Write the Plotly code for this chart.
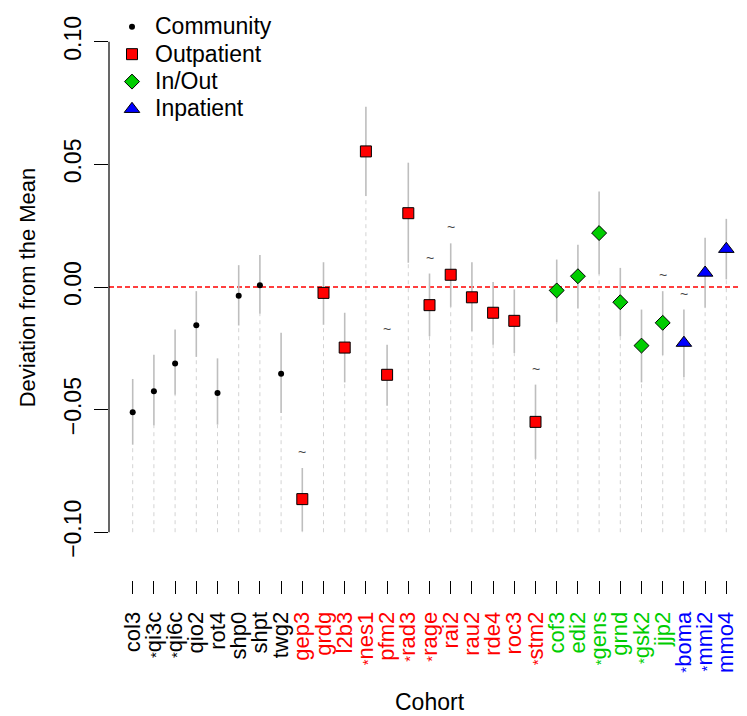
import plotly.graph_objects as go

# ---------------- data ----------------
cohorts = ["col3", "qi3c", "qi6c", "qio2", "rot4", "shp0", "shpt", "twg2",
           "gep3", "grdg", "l2b3", "nes1", "pfm2", "rad3", "rage", "rai2",
           "rau2", "rde4", "roc3", "stm2",
           "cof3", "edi2", "gens", "grnd", "gsk2", "jjp2",
           "boma", "mmi2", "mmo4"]
groups = (["Community"] * 8 + ["Outpatient"] * 12 +
          ["In/Out"] * 6 + ["Inpatient"] * 3)
estimate = [-0.0511, -0.0425, -0.0312, -0.0156, -0.0432, -0.0036, 0.0007, -0.0354,
            -0.0865, -0.0024, -0.0247, 0.0553, -0.0358, 0.0301, -0.0074, 0.0050,
            -0.0042, -0.0105, -0.0138, -0.0550,
            -0.0014, 0.0044, 0.0220, -0.0062, -0.0239, -0.0146,
            -0.0228, 0.0058, 0.0155]
lower = [-0.0643, -0.0565, -0.0439, -0.0285, -0.0561, -0.0157, -0.0109, -0.0514,
         -0.0997, -0.0154, -0.0389, 0.0371, -0.0484, 0.0099, -0.0201, -0.0081,
         -0.0180, -0.0235, -0.0269, -0.0701,
         -0.0144, -0.0088, 0.0051, -0.0201, -0.0389, -0.0278,
         -0.0367, -0.0085, 0.0031]
upper = [-0.0375, -0.0276, -0.0173, -0.0017, -0.0291, 0.0089, 0.0131, -0.0187,
         -0.0738, 0.0101, -0.0105, 0.0735, -0.0235, 0.0507, 0.0055, 0.0178,
         0.0101, 0.0020, -0.0010, -0.0398,
         0.0112, 0.0172, 0.0389, 0.0078, -0.0092, -0.0017,
         -0.0092, 0.0201, 0.0278]
starred = ["qi3c", "qi6c", "nes1", "rad3", "rage", "stm2", "gens", "gsk2", "boma", "mmi2"]
tilde = ["gep3", "pfm2", "rage", "rai2", "stm2", "jjp2", "boma"]
y_ticks = [-0.10, -0.05, 0.00, 0.05, 0.10]
y_ticktext = ["\u22120.10", "\u22120.05", "0.00", "0.05", "0.10"]
y_floor = -0.10

# ---------------- styles ----------------
FONT = "Liberation Sans, Arial, Helvetica, sans-serif"
group_order = ["Community", "Outpatient", "In/Out", "Inpatient"]
label_color = {"Community": "black", "Outpatient": "#FF0000",
               "In/Out": "#00CD00", "Inpatient": "#0000FF"}
marker_style = {
    "Community": dict(symbol="circle", size=6, color="black", line=dict(width=0)),
    "Outpatient": dict(symbol="square", size=11, color="#FF0000", line=dict(color="black", width=1)),
    "In/Out": dict(symbol="diamond", size=11.5, color="#00CD00", line=dict(color="black", width=1)),
    "Inpatient": dict(symbol="triangle-up", size=13.5, color="#0000FF", line=dict(color="black", width=1)),
}

idx = list(range(len(cohorts)))
fig = go.Figure()

# dashed guide lines from floor to lower CI
gx, gy = [], []
for i in idx:
    gx += [i, i, None]
    gy += [y_floor, lower[i], None]
fig.add_trace(go.Scatter(x=gx, y=gy, mode="lines", showlegend=False, hoverinfo="skip",
                         line=dict(color="#D3D3D3", width=1, dash="4px,4px")))

# CI lines
cx, cy = [], []
for i in idx:
    cx += [i, i, None]
    cy += [lower[i], upper[i], None]
fig.add_trace(go.Scatter(x=cx, y=cy, mode="lines", showlegend=False, hoverinfo="skip",
                         line=dict(color="#BEBEBE", width=1.6)))

# points
for g in group_order:
    xs = [i for i in idx if groups[i] == g]
    fig.add_trace(go.Scatter(x=xs, y=[estimate[i] for i in xs], mode="markers",
                             name=f'<span style="font-size:23px">{g}</span>',
                             marker=marker_style[g]))

# tick labels
ticktext = []
for c, g in zip(cohorts, groups):
    col = label_color[g]
    if c in starred:
        t = (f'<span style="color:{col};font-size:15px">*</span>'
             f'<span style="color:{col}">{c}</span>')
    else:
        t = f'<span style="color:{col}">{c}</span>'
    ticktext.append(t)

# zero line
fig.add_shape(type="line", xref="paper", yref="y", x0=0, x1=1, y0=0, y1=0,
              line=dict(color="#FF0000", width=1.4, dash="5px,3px"), layer="below")
# y axis line (R style, only over tick range)
fig.add_shape(type="line", xref="paper", yref="y", x0=0, x1=0,
              y0=y_ticks[0], y1=y_ticks[-1], line=dict(color="black", width=1.2))

annotations = []
for i in idx:
    if cohorts[i] in tilde:
        annotations.append(dict(x=i, y=upper[i], xref="x", yref="y", text="~",
                                showarrow=False, yshift=16, yanchor="middle",
                                font=dict(size=14, color="#444", family=FONT)))
annotations.append(dict(x=0.503, y=-0.2137, xref="paper", yref="paper", text="Cohort",
                        showarrow=False, xanchor="center", yanchor="middle",
                        font=dict(size=23, color="black", family=FONT)))
annotations.append(dict(x=-0.128, y=0, xref="paper", yref="y", text="Deviation from the Mean",
                        showarrow=False, textangle=-90, xanchor="center", yanchor="middle",
                        font=dict(size=22, color="black", family=FONT)))

fig.update_layout(
    width=739, height=708,
    margin=dict(l=101, r=0, t=2, b=136),
    paper_bgcolor="white", plot_bgcolor="white",
    font=dict(family=FONT, size=22, color="black"),
    showlegend=True,
    legend=dict(x=0.0, y=1.0035, xanchor="left", yanchor="top",
                bgcolor="rgba(0,0,0,0)", borderwidth=0, itemwidth=36,
                font=dict(size=18.8, family=FONT, color="black")),
    annotations=annotations,
    xaxis=dict(range=[-1.118, 28.976], tickmode="array", tickvals=idx, ticktext=ticktext,
               tickangle=-90, ticks="outside", ticklen=13, tickwidth=1, tickcolor="black",
               showline=False, showgrid=False, zeroline=False,
               tickfont=dict(size=22, family=FONT), ticklabelstandoff=9),
    yaxis=dict(range=[-0.11949, 0.11297], tickmode="array", tickvals=y_ticks,
               ticktext=y_ticktext, tickangle=-90, ticks="outside", ticklen=14,
               tickwidth=1, tickcolor="black", showline=False, showgrid=False,
               zeroline=False, tickfont=dict(size=23, family=FONT),
               ticklabelstandoff=4),
)

fig.write_html("out.html")
